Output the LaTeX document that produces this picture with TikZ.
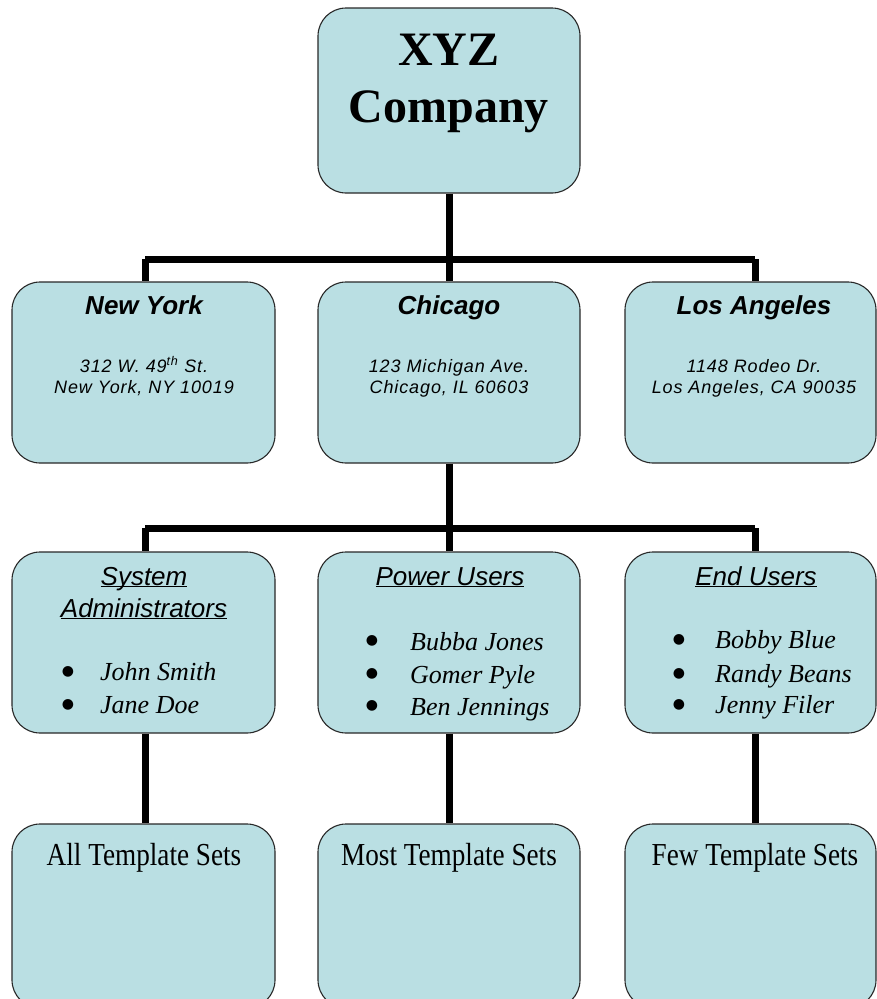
\documentclass[tikz,border=0pt]{standalone}
\usepackage{fontspec}
\setmainfont{Liberation Serif}
\newfontfamily\arialf{Liberation Sans}
\newfontfamily\arialsp[LetterSpace=5]{Liberation Sans}
\newfontfamily\condserif[FakeStretch=0.85]{Liberation Serif}
\newfontfamily\dejavu{DejaVu Sans}
\definecolor{boxfill}{RGB}{186,223,227}
\definecolor{boxline}{RGB}{40,40,40}
\newcommand{\ulsm}[1]{\underline{\smash{#1}}}
\tikzset{
  orgbox/.style={draw=boxline, line width=1.1pt, fill=boxfill, rounded corners=28pt, inner sep=0pt},
  conn/.style={line width=7pt, black},
  txt/.style={anchor=base, inner sep=0pt},
  titlef/.style={txt, font=\fontsize{48}{57}\selectfont\bfseries},
  cityf/.style={txt, font=\arialf\fontsize{26}{30}\selectfont\bfseries\itshape},
  addrf/.style={txt, font=\arialsp\fontsize{18}{21}\selectfont\itshape},
  headf/.style={txt, font=\arialf\fontsize{26}{30}\selectfont\itshape},
  itemf/.style={txt, anchor=base west, font=\fontsize{26}{30}\selectfont\itshape},
  bulf/.style={anchor=center, inner sep=0pt, font=\dejavu\fontsize{14}{14}\selectfont},
  tplf/.style={txt, font=\condserif\fontsize{32}{36}\selectfont}
}
\begin{document}
\begin{tikzpicture}[x=1pt,y=-1pt]
\useasboundingbox (0,0) rectangle (877,999);
\clip (0,0) rectangle (877,999);
% boxes
\node[orgbox, minimum width=262, minimum height=185] (top) at (449,100.5) {};
\node[orgbox, minimum width=263, minimum height=181] (ny) at (143.5,372.5) {};
\node[orgbox, minimum width=262, minimum height=181] (chi) at (449,372.5) {};
\node[orgbox, minimum width=251, minimum height=181] (la) at (750.5,372.5) {};
\node[orgbox, minimum width=263, minimum height=181] (sa) at (143.5,642.5) {};
\node[orgbox, minimum width=262, minimum height=181] (pu) at (449,642.5) {};
\node[orgbox, minimum width=251, minimum height=181] (eu) at (750.5,642.5) {};
\node[orgbox, minimum width=263, minimum height=184] (all) at (143.5,916) {};
\node[orgbox, minimum width=262, minimum height=184] (most) at (449,916) {};
\node[orgbox, minimum width=251, minimum height=184] (few) at (750.5,916) {};
% bus coordinates
\coordinate (b1l) at (145,259);
\coordinate (b1m) at (449,259);
\coordinate (b1r) at (755,259);
\coordinate (b2l) at (145,528);
\coordinate (b2m) at (449,528);
\coordinate (b2r) at (755,528);
% connectors
\draw[conn] (top.south) -- (b1m);
\draw[conn] (b1l) -- (b1r);
\draw[conn] (b1l) -- (b1l |- ny.north);
\draw[conn] (b1m) -- (chi.north);
\draw[conn] (b1r) -- (b1r |- la.north);
\draw[conn] (chi.south) -- (b2m);
\draw[conn] (b2l) -- (b2r);
\draw[conn] (b2l) -- (b2l |- sa.north);
\draw[conn] (b2m) -- (pu.north);
\draw[conn] (b2r) -- (b2r |- eu.north);
\draw[conn] (b2l |- sa.south) -- (b2l |- all.north);
\draw[conn] (pu.south) -- (most.north);
\draw[conn] (b2r |- eu.south) -- (b2r |- few.north);
% title
\node[titlef] (t1) at (449,65) {XYZ};
\node[titlef] (t2) at (449,122) {Company};
% cities
\node[cityf] (nyn) at (144,314) {New York};
\node[addrf] (nya) at (144,372) {312 W. 49\textsuperscript{th} St.};
\node[addrf] (nyb) at (144,393) {New York, NY 10019};
\node[cityf] (chin) at (449,314) {Chicago};
\node[addrf] (chia) at (449,372) {123 Michigan Ave.};
\node[addrf] (chib) at (449,393) {Chicago, IL 60603};
\node[cityf] (lan) at (754,314) {Los Angeles};
\node[addrf] (laa) at (754,372) {1148 Rodeo Dr.};
\node[addrf] (lab) at (754,393) {Los Angeles, CA 90035};
% system administrators
\node[headf] (sah1) at (144,585) {\ulsm{System}};
\node[headf] (sah2) at (144,617) {\ulsm{Administrators}};
\node[bulf] (sab1) at (68,672) {●};
\node[itemf] (sai1) at (100,680) {John Smith};
\node[bulf] (sab2) at (68,705) {●};
\node[itemf] (sai2) at (100,713) {Jane Doe};
% power users
\node[headf] (puh) at (450,585) {\ulsm{Power Users}};
\node[bulf] (pub1) at (372,641) {●};
\node[itemf] (pui1) at (410,650) {Bubba Jones};
\node[bulf] (pub2) at (372,674) {●};
\node[itemf] (pui2) at (410,683) {Gomer Pyle};
\node[bulf] (pub3) at (372,706) {●};
\node[itemf] (pui3) at (410,715) {Ben Jennings};
% end users
\node[headf] (euh) at (756,585) {\ulsm{End Users}};
\node[bulf] (eub1) at (679,640) {●};
\node[itemf] (eui1) at (715,648) {Bobby Blue};
\node[bulf] (eub2) at (679,674) {●};
\node[itemf] (eui2) at (715,682) {Randy Beans};
\node[bulf] (eub3) at (679,705) {●};
\node[itemf] (eui3) at (715,713) {Jenny Filer};
% template sets
\node[tplf] (allt) at (144,865) {All Template Sets};
\node[tplf] (mostt) at (449,865) {Most Template Sets};
\node[tplf] (fewt) at (755,865) {Few Template Sets};
\end{tikzpicture}
\end{document}
